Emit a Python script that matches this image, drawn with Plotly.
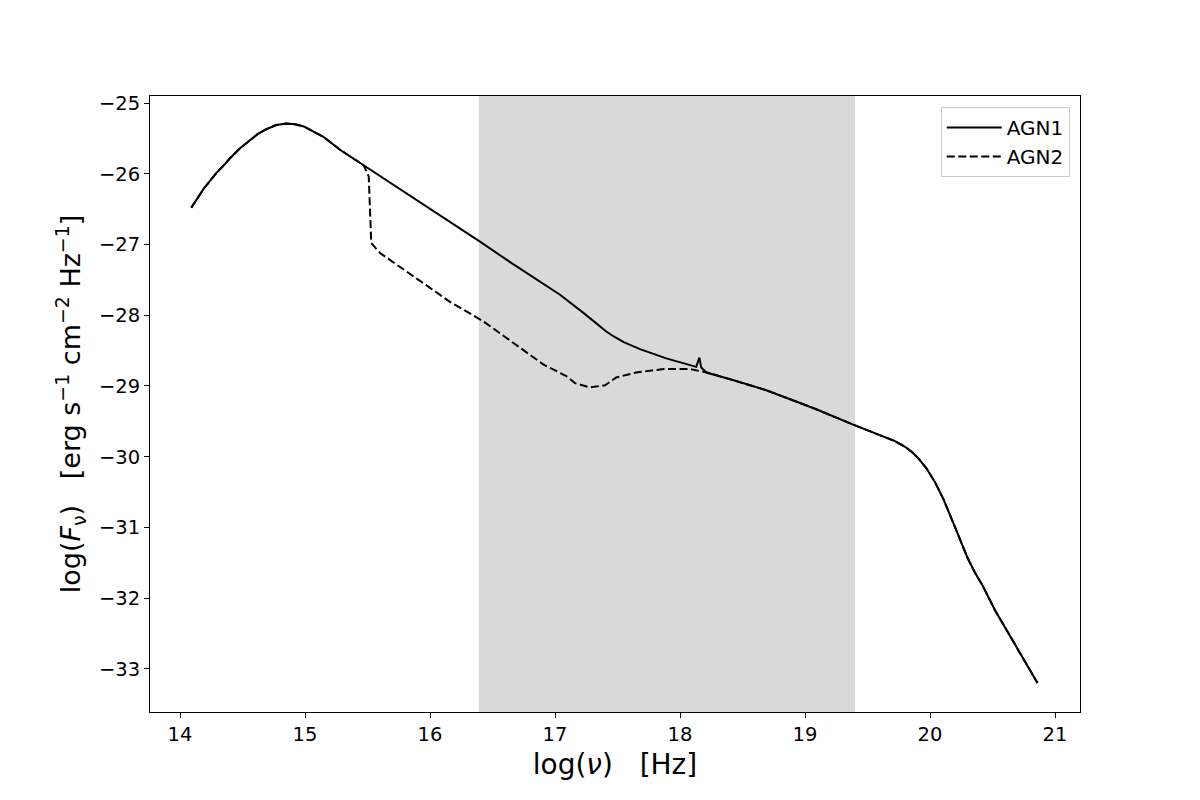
import plotly.graph_objects as go

# AGN1 spectrum (solid)
agn1_x = [14.09, 14.14, 14.19, 14.24, 14.29, 14.35, 14.40, 14.48, 14.56, 14.62,
          14.69, 14.77, 14.85, 14.92, 14.99, 15.07, 15.15, 15.28, 15.47, 15.80,
          16.16, 16.40, 16.65, 16.88, 17.04, 17.23, 17.33, 17.41, 17.47, 17.55,
          17.68, 17.89, 18.13, 18.155, 18.17, 18.21, 18.43, 18.69, 18.96, 19.09,
          19.39, 19.60, 19.72, 19.80, 19.86, 19.91, 19.97, 20.04, 20.11, 20.21,
          20.30, 20.36, 20.42, 20.52, 20.64, 20.86]
agn1_y = [-26.48, -26.34, -26.21, -26.10, -25.99, -25.88, -25.78, -25.64, -25.52, -25.44,
          -25.37, -25.31, -25.29, -25.30, -25.33, -25.40, -25.48, -25.66, -25.88, -26.27,
          -26.69, -26.96, -27.26, -27.53, -27.71, -27.97, -28.11, -28.23, -28.30, -28.38,
          -28.48, -28.61, -28.73, -28.60, -28.74, -28.81, -28.92, -29.06, -29.24, -29.33,
          -29.55, -29.69, -29.78, -29.86, -29.94, -30.03, -30.16, -30.36, -30.61, -31.04,
          -31.43, -31.64, -31.82, -32.17, -32.54, -33.20]

# AGN2 spectrum (dashed), absorbed between ~15.5 and ~18.4
agn2_x = [14.09, 14.14, 14.19, 14.24, 14.29, 14.35, 14.40, 14.48, 14.56, 14.62,
          14.69, 14.77, 14.85, 14.92, 14.99, 15.07, 15.15, 15.28, 15.47, 15.51,
          15.52, 15.53, 15.60, 16.01, 16.16, 16.43, 16.91, 17.09, 17.16, 17.28,
          17.40, 17.49, 17.65, 17.87, 18.08, 18.24, 18.43, 18.69, 18.96, 19.09,
          19.39, 19.60, 19.72, 19.80, 19.86, 19.91, 19.97, 20.04, 20.11, 20.21,
          20.30, 20.36, 20.42, 20.52, 20.64, 20.86]
agn2_y = [-26.48, -26.34, -26.21, -26.10, -25.99, -25.88, -25.78, -25.64, -25.52, -25.44,
          -25.37, -25.31, -25.29, -25.30, -25.33, -25.40, -25.48, -25.66, -25.88, -26.04,
          -26.61, -26.98, -27.12, -27.62, -27.81, -28.09, -28.70, -28.86, -28.96, -29.02,
          -28.99, -28.88, -28.81, -28.76, -28.76, -28.82, -28.92, -29.06, -29.24, -29.33,
          -29.55, -29.69, -29.78, -29.86, -29.94, -30.03, -30.16, -30.36, -30.61, -31.04,
          -31.43, -31.64, -31.82, -32.17, -32.54, -33.20]

# X-ray band shown as the grey span
band_lo = 16.39
band_hi = 19.40

x_ticks = [14, 15, 16, 17, 18, 19, 20, 21]
y_ticks = [-25, -26, -27, -28, -29, -30, -31, -32, -33]

fig = go.Figure()
fig.add_trace(go.Scatter(x=agn1_x, y=agn1_y, mode='lines', name='AGN1',
                         line=dict(color='black', width=2)))
fig.add_trace(go.Scatter(x=agn2_x, y=agn2_y, mode='lines', name='AGN2',
                         line=dict(color='black', width=2, dash='8px,3.5px')))

fig.add_vrect(x0=band_lo, x1=band_hi, fillcolor='#d9d9d9', opacity=1,
              line_width=0, layer='below')

axis_style = dict(showline=True, linecolor='black', linewidth=1, mirror=True,
                  ticks='outside', ticklen=5, tickcolor='black', showgrid=False,
                  zeroline=False, tickfont=dict(size=19.5, color='black'))

fig.update_layout(
    width=1200, height=800,
    margin=dict(l=142, r=128, t=88, b=96),
    plot_bgcolor='white', paper_bgcolor='white',
    font=dict(family='DejaVu Sans', color='black'),
    xaxis=dict(range=[13.76, 21.2], tickvals=x_ticks,
               title=dict(text='log(<i>ν</i>)\u00a0\u00a0\u00a0[Hz]',
                          font=dict(size=28), standoff=8),
               **axis_style),
    yaxis=dict(range=[-33.61, -24.9], tickvals=y_ticks,
               title=dict(text='log(<i>F</i><sub>ν</sub>)\u00a0\u00a0\u00a0[erg s<sup>−1</sup> cm<sup>−2</sup> Hz<sup>−1</sup>]',
                          font=dict(size=27), standoff=10),
               **axis_style),
    legend=dict(x=0.989, y=0.982, xanchor='right', yanchor='top',
                bordercolor='#cccccc', borderwidth=1, bgcolor='white',
                font=dict(size=20), itemwidth=55),
    showlegend=True,
)

fig.write_html("out.html")
